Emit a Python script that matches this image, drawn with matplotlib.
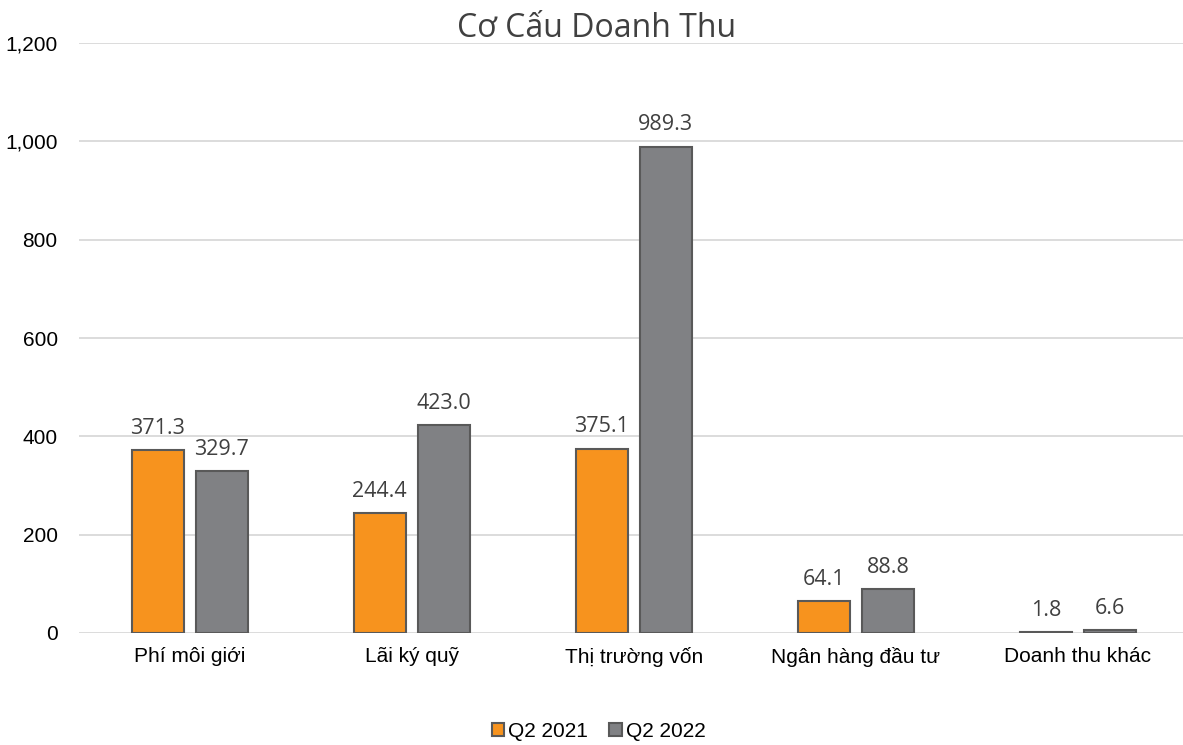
import matplotlib.pyplot as plt
import numpy as np

# dữ liệu
categories = ['Phí môi giới', 'Lãi ký quỹ', 'Thị trường vốn', 'Ngân hàng đầu tư', 'Doanh thu khác']
q2_2021 = [371.3, 244.4, 375.1, 64.1, 1.8]
q2_2022 = [329.7, 423.0, 989.3, 88.8, 6.6]
series_names = ['Q2 2021', 'Q2 2022']

orange = '#F7931E'
gray = '#808184'
edge = '#595959'

fig = plt.figure(figsize=(11.83, 7.45), dpi=100)
left = 78.5
ax = fig.add_axes([left / 1183, 1 - 633 / 745, (1183 - left) / 1183, 590 / 745])

x = np.arange(len(categories))
w = 0.234
off = 0.144
b1 = ax.bar(x - off, q2_2021, w, color=orange, edgecolor=edge, linewidth=1.5, label=series_names[0], zorder=3)
b2 = ax.bar(x + off, q2_2022, w, color=gray, edgecolor=edge, linewidth=1.5, label=series_names[1], zorder=3)

for bars in (b1, b2):
    for rect in bars:
        h = rect.get_height()
        ax.annotate(f'{h:.1f}', (rect.get_x() + rect.get_width() / 2, h),
                    xytext=(0, 8), textcoords='offset points', ha='center', va='bottom',
                    fontsize=15.5, family='Open Sans', color='#404040')

ax.set_xlim(-0.5, len(categories) - 0.5 - 6 / 222)
ax.set_ylim(0, 1200)
ax.set_yticks(range(0, 1201, 200))
ax.set_yticklabels([f'{v:,}' for v in range(0, 1201, 200)], family='Liberation Sans', fontsize=15, color='#000000')
ax.set_xticks(x)
ax.set_xticklabels(categories, family='Liberation Sans', fontsize=15, color='#000000')
ax.tick_params(length=0, pad=10)
ax.tick_params(axis='y', pad=15)
ax.grid(axis='y', color='#D9D9D9', linewidth=1.3, zorder=0)
for s in ax.spines.values():
    s.set_visible(False)

fig.text(0.504, 0.962, 'Cơ Cấu Doanh Thu', ha='center', va='center', fontsize=23, family='Open Sans', color='#404040')

fig.legend(loc='center', bbox_to_anchor=(0.506, 0.018), ncol=2, frameon=False,
           prop={'family': 'Liberation Sans', 'size': 15}, handlelength=0.6, handleheight=0.6,
           handletextpad=0.2, columnspacing=1.0, borderaxespad=0)

fig.savefig('out.png', dpi=100)
